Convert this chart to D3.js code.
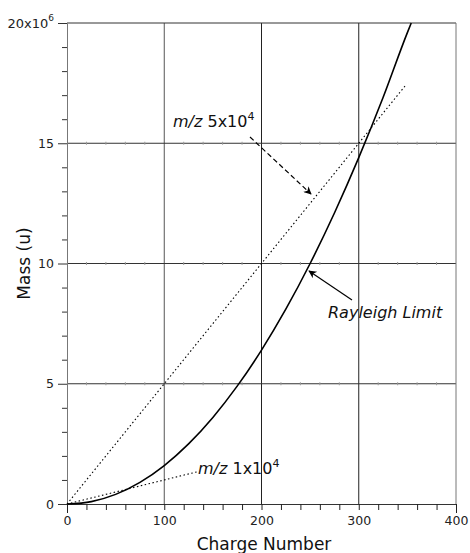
<!DOCTYPE html>
<html>
<head>
<meta charset="utf-8">
<script src="https://cdn.jsdelivr.net/npm/d3@7"></script>
<style>
  body { margin: 0; background: #fff; }
  text { font-family: "DejaVu Sans", sans-serif; }
</style>
</head>
<body>
<svg id="chart" width="470" height="553"></svg>
<script>
// values (mass in units of 10^6 u)
const chargeTicks = [0, 100, 200, 300, 400];
const massTicks = [0, 5, 10, 15, 20];

const rayleighCharge = [0, 25, 50, 75, 100, 125, 150, 175, 200, 225, 250, 275, 300, 325, 350, 354];
const rayleighMass = [0, 0.1, 0.4, 0.9, 1.6, 2.5, 3.6, 4.9, 6.4, 8.1, 10.0, 12.1, 14.4, 16.9, 19.6, 20.0];

const mz5Charge = [0, 348];
const mz5Mass = [0, 17.4];

const mz1Charge = [0, 135];
const mz1Mass = [0, 1.35];

const svg = d3.select("#chart");

const x = d3.scaleLinear().domain([0, 400]).range([67, 456]);
const y = d3.scaleLinear().domain([0, 20]).range([504, 23]);

// arrow heads
const defs = svg.append("defs");
defs.append("marker")
    .attr("id", "head")
    .attr("viewBox", "0 0 10 10")
    .attr("refX", 9)
    .attr("refY", 5)
    .attr("markerWidth", 10)
    .attr("markerHeight", 8)
    .attr("markerUnits", "userSpaceOnUse")
    .attr("orient", "auto")
  .append("path")
    .attr("d", "M0,0 L10,5 L0,10 L3,5 Z")
    .attr("fill", "#000");

// gridlines
const grid = svg.append("g");
grid.selectAll(".vgrid")
    .data(chargeTicks.slice(1, 4))
    .join("line")
    .attr("x1", d => x(d)).attr("x2", d => x(d))
    .attr("y1", y(0)).attr("y2", y(20))
    .attr("stroke", d => d == 100 ? "#555" : "#222")
    .attr("stroke-width", 1);

grid.selectAll(".hgrid")
    .data(massTicks.slice(1, 4))
    .join("line")
    .attr("x1", x(0)).attr("x2", x(400))
    .attr("y1", d => y(d)).attr("y2", d => y(d))
    .attr("stroke", "#333")
    .attr("stroke-width", 1);

// little marks along the horizontal gridlines
const minorX = d3.range(20, 400, 20).filter(v => v % 100 != 0);
massTicks.slice(1, 4).forEach(m => {
    grid.selectAll(null)
        .data(minorX)
        .join("line")
        .attr("x1", d => x(d)).attr("x2", d => x(d))
        .attr("y1", y(m) - 1.5).attr("y2", y(m) + 1.5)
        .attr("stroke", "#999");
});

// frame: top and right
svg.append("line")
    .attr("x1", x(0)).attr("x2", x(400))
    .attr("y1", y(20)).attr("y2", y(20))
    .attr("stroke", "#333");
svg.append("line")
    .attr("x1", x(400)).attr("x2", x(400))
    .attr("y1", y(20)).attr("y2", y(0))
    .attr("stroke", "#777");

// axes
const xAxis = d3.axisBottom(x)
    .tickValues(d3.range(0, 401, 20))
    .tickSize(6)
    .tickFormat(d => chargeTicks.includes(d) ? d : "");
const gx = svg.append("g")
    .attr("transform", `translate(0,${y(0)})`)
    .call(xAxis);
gx.select(".domain").attr("stroke", "#333");
gx.selectAll(".tick line")
    .attr("stroke", "#222")
    .attr("y2", d => (d == 0 || d == 400) ? 9 : 6);
gx.selectAll(".tick text")
    .style("font-size", "12.5px")
    .attr("fill", "#222")
    .attr("dy", "0.95em");

const yAxis = d3.axisLeft(y)
    .tickValues(d3.range(0, 21, 1))
    .tickSize(5)
    .tickFormat(d => (massTicks.includes(d) && d != 20) ? d : "");
const gy = svg.append("g")
    .attr("transform", `translate(${x(0)},0)`)
    .call(yAxis);
gy.select(".domain").attr("stroke", "#777");
gy.selectAll(".tick line")
    .attr("stroke", "#333")
    .attr("x2", d => massTicks.includes(d) ? -9 : -5);
gy.selectAll(".tick text")
    .style("font-size", "12.5px")
    .attr("fill", "#222")
    .attr("x", -13);

// top label 20x10^6
const topLabel = svg.append("text")
    .attr("x", x(0) - 13)
    .attr("y", y(20) + 5)
    .attr("text-anchor", "end")
    .attr("fill", "#222")
    .style("font-size", "13px");
topLabel.append("tspan").text("20x10");
topLabel.append("tspan").attr("dy", -7).style("font-size", "9px").text("6");

// series
const line = d3.line()
    .x(d => x(d[0]))
    .y(d => y(d[1]))
    .curve(d3.curveMonotoneX);

svg.append("path")
    .datum(d3.zip(mz5Charge, mz5Mass))
    .attr("d", line)
    .attr("fill", "none")
    .attr("stroke", "#000")
    .attr("stroke-width", 1.1)
    .attr("stroke-dasharray", "1.5,2.5");

svg.append("path")
    .datum(d3.zip(mz1Charge, mz1Mass))
    .attr("d", line)
    .attr("fill", "none")
    .attr("stroke", "#000")
    .attr("stroke-width", 1.1)
    .attr("stroke-dasharray", "1.5,2.5");

svg.append("path")
    .datum(d3.zip(rayleighCharge, rayleighMass))
    .attr("d", line)
    .attr("fill", "none")
    .attr("stroke", "#000")
    .attr("stroke-width", 1.6);

// annotations
function mzLabel(px, py, mant) {
    const t = svg.append("text")
        .attr("x", px).attr("y", py)
        .style("font-size", "16px")
        .attr("fill", "#111");
    t.append("tspan").style("font-style", "italic").text("m/z");
    t.append("tspan").text(" " + mant + "x10");
    t.append("tspan").attr("dy", -7).style("font-size", "11px").text("4");
}
mzLabel(173, 127, "5");
mzLabel(198, 474, "1");

svg.append("line")
    .attr("x1", 250).attr("y1", 137)
    .attr("x2", 311).attr("y2", 194)
    .attr("stroke", "#000")
    .attr("stroke-width", 1.2)
    .attr("stroke-dasharray", "5,3")
    .attr("marker-end", "url(#head)");

svg.append("text")
    .attr("x", 328).attr("y", 318)
    .style("font-size", "16px")
    .style("font-style", "italic")
    .attr("fill", "#111")
    .text("Rayleigh Limit");

svg.append("line")
    .attr("x1", 352).attr("y1", 300)
    .attr("x2", 309).attr("y2", 271)
    .attr("stroke", "#000")
    .attr("stroke-width", 1.2)
    .attr("marker-end", "url(#head)");

// axis titles
svg.append("text")
    .attr("x", 264).attr("y", 550)
    .attr("text-anchor", "middle")
    .style("font-size", "17px")
    .attr("fill", "#111")
    .text("Charge Number");

svg.append("text")
    .attr("transform", `translate(30,${y(10)}) rotate(-90)`)
    .attr("text-anchor", "middle")
    .style("font-size", "17px")
    .attr("fill", "#111")
    .text("Mass (u)");
</script>
</body>
</html>
